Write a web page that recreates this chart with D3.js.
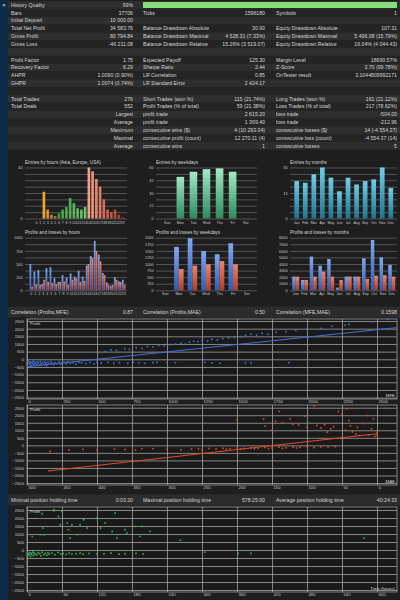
<!DOCTYPE html>
<html>
<head>
<meta charset="utf-8">
<script src="https://cdn.jsdelivr.net/npm/d3@7"></script>
<style>
  body { margin: 0; background: #1e1e1e; }
  svg { display: block; font-family: "Liberation Sans", Arial, sans-serif; }
</style>
</head>
<body>
<div id="report"></div>
<script>
// ---- summary table ----
var summaryLabels1 = ["History Quality", "Bars", "Initial Deposit", "Total Net Profit", "Gross Profit", "Gross Loss", "",
  "Profit Factor", "Recovery Factor", "AHPR", "GHPR", "", "Total Trades", "Total Deals", "", "", "", "", ""];
var summaryValues1 = ["99%", "37706", "10 000.00", "34 583.76", "80 794.84", "-46 211.08", "",
  "1.75", "6.29", "1.0090 (0.90%)", "1.0074 (0.74%)", "", "276", "552", "Largest", "Average", "Maximum", "Maximal", "Average"];
var summaryLabels2 = ["", "Ticks", "", "Balance Drawdown Absolute", "Balance Drawdown Maximal", "Balance Drawdown Relative", "",
  "Expected Payoff", "Sharpe Ratio", "LR Correlation", "LR Standard Error", "", "Short Trades (won %)", "Profit Trades (% of total)",
  "profit trade", "profit trade", "consecutive wins ($)", "consecutive profit (count)", "consecutive wins"];
var summaryValues2 = ["", "1596180", "", "30.93", "4 528.31 (7.33%)", "15.26% (3 519.07)", "",
  "125.30", "2.44", "0.85", "2 424.17", "", "115 (21.74%)", "59 (21.38%)",
  "2 615.20", "1 369.40", "4 (10 293.04)", "12 270.11 (4)", "1"];
var summaryLabels3 = ["", "Symbols", "", "Equity Drawdown Absolute", "Equity Drawdown Maximal", "Equity Drawdown Relative", "",
  "Margin Level", "Z-Score", "OnTester result", "", "", "Long Trades (won %)", "Loss Trades (% of total)",
  "loss trade", "loss trade", "consecutive losses ($)", "consecutive loss (count)", "consecutive losses"];
var summaryValues3 = ["", "1", "", "107.31", "5 496.08 (15.79%)", "16.04% (4 044.43)", "",
  "18690.57%", "3.70 (99.78%)", "3.1044809992171", "", "", "161 (21.12%)", "217 (78.62%)",
  "-504.00", "-212.96", "14 (-4 554.37)", "-4 554.37 (14)", "5"];
var historyQuality = 99;

// ---- entries / profits bar charts ----
var hourLabels = ["0","1","2","3","4","5","6","7","8","9","10","11","12","13","14","15","16","17","18","19","20","21","22","23"];
var hourSessions = ["asia","asia","asia","asia","asia","asia","europe","europe","europe","europe","europe","europe","europe","europe",
  "usa","usa","usa","usa","usa","usa","usa","usa","usa","usa"];
var entriesByHour = [0, 0, 21, 7, 3, 2, 4, 7, 9, 16, 12, 8, 7, 9, 40, 37, 31, 25, 15, 7, 5, 7, 3, 1];
var dayLabels = ["Sun", "Mon", "Tue", "Wed", "Thu", "Fri", "Sat"];
var entriesByDay = [0, 49, 55, 58, 59, 55, 0];
var monthLabels = ["Jan","Feb","Mar","Apr","May","Jun","Jul","Aug","Sep","Oct","Nov","Dec"];
var entriesByMonth = [22, 21, 26, 30, 24, 16, 24, 20, 22, 23, 30, 18];

var profitByHour = [500, 350, 380, 120, 420, 440, 230, 160, 290, 240, 320, 260, 370, 260, 470, 650, 940, 680, 330, 150, 80, 250, 170, 200];
var lossByHour   = [70, 110, 100, 200, 160, 140, 120, 160, 170, 100, 200, 230, 160, 180, 500, 620, 750, 550, 290, 100, 100, 200, 160, 100];
var profitByDay = [0, 1650, 1980, 1490, 1370, 1790, 0];
var lossByDay   = [0, 810, 940, 990, 1110, 990, 0];
var profitByMonth = [2080, 1560, 5120, 3750, 4760, 400, 2080, 2080, 4870, 7650, 5020, 3850];
var lossByMonth   = [2080, 1560, 2080, 2840, 2080, 1560, 2080, 2080, 1720, 2230, 2300, 2080];

var entriesHourTicks = [40, 0];
var entriesDayTicks = [60, 45, 30, 15, 0];
var entriesMonthTicks = [30, 15, 0];
var plHourTicks = [1000, 750, 500, 250, 0];
var plDayTicks = [2000, 1750, 1500, 1250, 1000, 750, 500, 250, 0];
var plMonthTicks = [8000, 7000, 6000, 5000, 4000, 3000, 2000, 1000, 0];

// ---- scatter charts ----
var profitTicks = [2500, 2000, 1500, 1000, 500, 0, -500, -1000, -1500, -2000, -2500];
var mfeTicks = [0, 250, 500, 750, 1000, 1250, 1500, 1750, 2000, 2250, 2500];
var maeTicks = [500, 450, 400, 350, 300, 250, 200, 150, 100, 50, 0];
var timeTicks = [0, 60, 120, 180, 240, 300, 360, 420, 480, 540, 600];

var correlationTexts = ["Correlation (Profits,MFE)", "0.87", "Correlation (Profits,MAE)", "0.50", "Correlation (MFE,MAE)", "0.1598"];
var holdingTexts = ["Minimal position holding time", "0:03:20", "Maximal position holding time", "578:25:00", "Average position holding time", "40:24:33"];

// [MFE, profit]
var mfePoints = [
  [10,-150],[15,-250],[20,-320],[25,-180],[30,-400],[35,-210],[40,-280],[45,-130],[50,-350],[55,-200],
  [60,-260],[70,-310],[75,-170],[80,-230],[90,-380],[95,-140],[100,-290],[110,-220],[120,-330],[125,-180],
  [135,-260],[140,-420],[150,-200],[160,-300],[170,-150],[180,-250],[190,-350],[200,-220],[215,-280],[230,-180],
  [240,-330],[250,-240],[265,-200],[280,-300],[290,-160],[310,-260],[330,-220],[350,-310],[370,-190],[390,-250],
  [420,-280],[450,-210],[480,-300],[500,-180],[530,-240],[580,-200],[620,-260],[660,-220],[720,-250],[760,-200],
  [800,-230],[840,-260],[900,-220],[930,-200],[1000,-240],[1060,-220],[1270,-200],[1320,-240],[1380,-260],[1560,-230],
  [1600,-250],[1870,-220],
  [560,520],[600,610],[640,580],[700,700],[730,650],[780,760],[820,720],[860,830],[900,800],[940,900],
  [980,870],[1020,960],[1060,1000],[1100,1050],[1130,980],[1160,1120],[1190,1180],[1220,1150],[1250,1230],[1290,1200],
  [1320,1300],[1360,1260],[1400,1350],[1440,1380],[1480,1420],[1530,1480],[1560,1560],[1600,1640],[1640,1580],[1680,1700],
  [1720,1650],[1780,1760],[1850,1800],[1920,1880],[2000,1950],[2100,2020],[2180,2150],[2270,2230],[2300,2280],[2460,2450],
  [2580,2615]
];
// [MAE, profit]
var maePoints = [
  [60,-80],[70,-120],[80,-100],[90,-150],[100,-90],[110,-130],[115,-180],[120,-110],[130,-160],[135,-200],
  [140,-120],[150,-170],[155,-210],[160,-140],[170,-190],[175,-230],[180,-160],[190,-200],[195,-250],[200,-180],
  [210,-220],[215,-260],[220,-190],[230,-240],[240,-210],[250,-280],[255,-230],[265,-250],[280,-300],[300,-260],
  [320,-220],[336,-218],[345,-300],[360,-280],[375,-250],[400,-320],[420,-260],[440,-300],[467,-400],
  [162,1760],[145,1590],[140,2250],[135,1500],[124,1760],[120,1400],[112,1350],[103,1940],[100,1200],[86,1320],
  [80,1150],[75,1380],[71,880],[66,1100],[62,1250],[55,2250],[50,2080],[45,1000],[43,2420],[40,1650],
  [38,1300],[35,900],[30,760],[28,1200],[25,660],[20,1450],[14,1980],[12,700],[8,1100],[5,1760],
  [3,600],[0,880],[0,660],[90,2615],[160,1280],[150,1000],[200,1700]
];
// [holding time (hours), profit]
var timePoints = [
  [1,-150],[2,-250],[4,-320],[5,-180],[6,-400],[7,-210],[8,-280],[10,-130],[11,-350],[12,-200],
  [14,-260],[17,-310],[19,-170],[22,-230],[24,-380],[26,-140],[29,-290],[31,-220],[34,-330],[36,-180],
  [38,-260],[43,-200],[48,-300],[53,-150],[58,-250],[62,-220],[67,-280],[72,-200],[77,-250],[84,-230],
  [91,-200],[96,-260],[106,-220],[120,-250],[132,-240],[144,-200],[158,-260],[168,-230],[187,-210],[199,-250],
  [305,-130],[362,-210],[384,-210],
  [9,850],[26,2270],[27,1375],[29,956],[46,2456],[54,2100],[57,1580],[60,2410],[69,1690],[71,1270],
  [74,750],[77,1580],[86,956],[91,1580],[97,1890],[103,1375],[120,2000],[126,1375],[134,1690],[146,1160],
  [151,2310],[154,750],[168,1270],[171,1060],[185,1475],[194,850],[197,1475],[211,1160],[263,600],[578,750],
  [46,2520],[23,956]
];
var mfeFit = { intercept: -480, slope: 0.964 };
var maeFit = { intercept: 773, slope: -5.27 };

// ---------------------------------------------------------------
var W = 400, H = 600;
var textColor = "#d4d4d4";
var plain = d3.format("d");
var svg = d3.select("#report").append("svg").attr("width", W).attr("height", H);
var defs = svg.append("defs");

function gradient(id, top, bottom) {
  var g = defs.append("linearGradient").attr("id", id)
    .attr("x1", 0).attr("y1", 0).attr("x2", 0).attr("y2", 1);
  g.append("stop").attr("offset", "0%").attr("stop-color", top);
  g.append("stop").attr("offset", "100%").attr("stop-color", bottom);
}
gradient("gBlue", "#80a8ef", "#2f5cb0");
gradient("gRed", "#ef8468", "#b03c2b");
gradient("gMint", "#a2e9c6", "#2e8a5c");
gradient("gTeal", "#70cde8", "#1d7391");

svg.append("rect").attr("width", W).attr("height", H).attr("fill", "#1e1e1e");

// table rows
var rowH = 7.82, rowTop = 1.1;
var rows = svg.append("g").style("font-size", "5.2px").attr("fill", textColor);
summaryLabels1.forEach(function (label, i) {
  var y0 = rowTop + i * rowH, yc = y0 + rowH / 2;
  rows.append("rect").attr("x", 8).attr("y", y0).attr("width", W - 8).attr("height", rowH)
    .attr("fill", i % 2 ? "#242424" : "#2e2e2e");
  var cells = [
    [11, "start", label], [133, "end", summaryValues1[i]],
    [143, "start", summaryLabels2[i]], [265, "end", summaryValues2[i]],
    [276, "start", summaryLabels3[i]], [397, "end", summaryValues3[i]]
  ];
  cells.forEach(function (c) {
    if (!c[2]) return;
    rows.append("text").attr("x", c[0]).attr("y", yc).attr("dy", "0.35em")
      .attr("text-anchor", c[1]).text(c[2]);
  });
});

// history quality bar
var qualityScale = d3.scaleLinear().domain([0, 100]).range([143, 399.5]);
svg.append("rect").attr("x", qualityScale(0)).attr("y", 2).attr("height", 6)
  .attr("width", qualityScale(historyQuality) - qualityScale(0)).attr("fill", "#86df7c");

// left strip
svg.append("rect").attr("width", 8).attr("height", H).attr("fill", "#0f2b4a");
svg.append("text").attr("x", 4).attr("y", 5).attr("dy", "0.35em").attr("text-anchor", "middle")
  .style("font-size", "6px").attr("fill", "#e0e0e0").text("\u00d7");

// ---- small bar charts ----
function barFrame(x0, x1, yTop, yBase, maxVal, ticks, title) {
  var y = d3.scaleLinear().domain([0, maxVal]).range([yBase, yTop]);
  var g = svg.append("g");
  var gridY = d3.scaleLinear().domain([0, 8]).range([yBase, yTop]);
  g.append("g").attr("transform", "translate(" + x0 + ",0)")
    .call(d3.axisLeft(gridY).tickValues([0,1,2,3,4,5,6,7,8]).tickSize(-(x1 - x0)).tickFormat(""))
    .call(function (a) {
      a.select(".domain").remove();
      a.selectAll("line").attr("stroke", "#8a8a8a").attr("stroke-width", 0.5);
    });
  g.append("g").attr("transform", "translate(" + (x0 - 1) + ",0)")
    .call(d3.axisLeft(y).tickValues(ticks).tickSize(0).tickPadding(1.5).tickFormat(plain))
    .call(function (a) {
      a.select(".domain").remove();
      a.selectAll("text").attr("fill", "#c8c8c8").style("font-size", "3.8px");
    });
  g.append("text").attr("x", x0).attr("y", yTop - 5).attr("dy", "0.35em")
    .style("font-size", "4.6px").attr("fill", textColor).text(title);
  return y;
}

function bandAxis(band, yPos) {
  svg.append("g").attr("transform", "translate(0," + yPos + ")")
    .call(d3.axisBottom(band).tickSize(0).tickPadding(1.5))
    .call(function (a) {
      a.select(".domain").remove();
      a.selectAll("text").attr("fill", "#c8c8c8").style("font-size", "3.6px");
    });
}

// Entries by hours
var eTop = 167.5, eBase = 218.5;
var yEH = barFrame(25, 127, eTop, eBase, 40, entriesHourTicks, "Entries by hours (Asia, Europe, USA)");
var xEH = d3.scaleBand().domain(hourLabels).range([34, 125]).padding(0.3);
var sessionColors = {
  asia: d3.interpolateRgb("#f2a534", "#b8691a"),
  europe: d3.interpolateRgb("#3f9e44", "#6cc46a"),
  usa: d3.interpolateRgb("#f2a08a", "#a9321f")
};
var sessionRange = { asia: [2, 5], europe: [6, 13], usa: [14, 23] };
svg.append("g").selectAll("rect").data(entriesByHour).enter().append("rect")
  .attr("x", function (d, i) { return xEH(hourLabels[i]); })
  .attr("width", xEH.bandwidth())
  .attr("y", function (d) { return yEH(d); })
  .attr("height", function (d) { return eBase - yEH(d); })
  .attr("fill", function (d, i) {
    var s = hourSessions[i], r = sessionRange[s];
    return sessionColors[s](Math.max(0, (i - r[0]) / (r[1] - r[0])));
  });
bandAxis(xEH, eBase + 1);

// Entries by weekdays
var yED = barFrame(156, 257, eTop, eBase, 60, entriesDayTicks, "Entries by weekdays");
var xED = d3.scaleBand().domain(dayLabels).range([158, 255]).padding(0.42);
svg.append("g").selectAll("rect").data(entriesByDay).enter().append("rect")
  .attr("x", function (d, i) { return xED(dayLabels[i]); })
  .attr("width", xED.bandwidth())
  .attr("y", function (d) { return yED(d); })
  .attr("height", function (d) { return eBase - yED(d); })
  .attr("fill", "url(#gMint)");
bandAxis(xED, eBase + 1);

// Entries by months
var yEM = barFrame(290, 397, eTop, eBase, 30, entriesMonthTicks, "Entries by months");
var xEM = d3.scaleBand().domain(monthLabels).range([290.5, 397]).padding(0.45);
svg.append("g").selectAll("rect").data(entriesByMonth).enter().append("rect")
  .attr("x", function (d, i) { return xEM(monthLabels[i]); })
  .attr("width", xEM.bandwidth())
  .attr("y", function (d) { return yEM(d); })
  .attr("height", function (d) { return eBase - yEM(d); })
  .attr("fill", "url(#gTeal)");
bandAxis(xEM, eBase + 1);

// Profits and losses
var pTop = 237.7, pBase = 290.3;
function pairBars(band, labels, profits, losses, y) {
  var half = band.bandwidth() / 2;
  var g = svg.append("g");
  g.selectAll(".p").data(profits).enter().append("rect")
    .attr("x", function (d, i) { return band(labels[i]); })
    .attr("width", half)
    .attr("y", function (d) { return y(d); })
    .attr("height", function (d) { return pBase - y(d); })
    .attr("fill", "url(#gBlue)");
  g.selectAll(".l").data(losses).enter().append("rect")
    .attr("x", function (d, i) { return band(labels[i]) + half; })
    .attr("width", half)
    .attr("y", function (d) { return y(d); })
    .attr("height", function (d) { return pBase - y(d); })
    .attr("fill", "url(#gRed)");
}
var yPH = barFrame(25, 127, pTop, pBase, 1000, plHourTicks, "Profits and losses by hours");
var xPH = d3.scaleBand().domain(hourLabels).range([29, 126]).padding(0.12);
pairBars(xPH, hourLabels, profitByHour, lossByHour, yPH);
bandAxis(xPH, pBase + 1);

var yPD = barFrame(156, 257, pTop, pBase, 2000, plDayTicks, "Profits and losses by weekdays");
var xPD = d3.scaleBand().domain(dayLabels).range([156.5, 255.5]).padding(0.3);
pairBars(xPD, dayLabels, profitByDay, lossByDay, yPD);
bandAxis(xPD, pBase + 1);

var yPM = barFrame(290, 397, pTop, pBase, 8000, plMonthTicks, "Profits and losses by months");
var xPM = d3.scaleBand().domain(monthLabels).range([290.5, 397]).padding(0.2);
pairBars(xPM, monthLabels, profitByMonth, lossByMonth, yPM);
bandAxis(xPM, pBase + 1);

// ---- header rows for scatter charts ----
function headerRow(y0, texts) {
  svg.append("rect").attr("x", 8).attr("y", y0).attr("width", W - 8).attr("height", 11)
    .attr("fill", "#2c2c2c");
  var pos = [[11, "start"], [133, "end"], [143, "start"], [265, "end"], [276, "start"], [397, "end"]];
  texts.forEach(function (t, i) {
    svg.append("text").attr("x", pos[i][0]).attr("y", y0 + 5.5).attr("dy", "0.35em")
      .attr("text-anchor", pos[i][1]).style("font-size", "5.2px").attr("fill", textColor).text(t);
  });
}

function scatterChart(o) {
  var x = d3.scaleLinear().domain(o.xDomain).range([27, 377]);
  var y = d3.scaleLinear().domain([-2500, 2500]).range([o.yBottom, o.yTop]);
  var g = svg.append("g");
  g.append("rect").attr("x", 27).attr("y", o.top).attr("width", 370).attr("height", o.bottom - o.top)
    .attr("fill", "#1a1a1a").attr("stroke", "#9c9c9c").attr("stroke-width", 0.8);
  g.append("g").attr("transform", "translate(27,0)")
    .call(d3.axisLeft(y).tickValues(profitTicks).tickSize(-370).tickPadding(3).tickFormat(plain))
    .call(function (a) {
      a.select(".domain").remove();
      a.selectAll("line").attr("stroke", "#a2a2a2").attr("stroke-width", 0.8);
      a.selectAll("text").attr("fill", "#c8c8c8").style("font-size", "4.2px");
    });
  g.append("g").attr("transform", "translate(0," + o.bottom + ")")
    .call(d3.axisBottom(x).tickValues(o.xTicks).tickSize(-(o.bottom - o.top)).tickPadding(1.2).tickFormat(plain))
    .call(function (a) {
      a.select(".domain").remove();
      a.selectAll("line").attr("stroke", "#a2a2a2").attr("stroke-width", 0.8);
      a.selectAll("text").attr("fill", "#c8c8c8").style("font-size", "4.2px")
        .attr("text-anchor", "start").attr("dx", 1);
    });
  g.append("g").selectAll("rect").data(o.points).enter().append("rect")
    .attr("x", function (d) { return x(d[0]) - 0.8; })
    .attr("y", function (d) { return y(d[1]) - 0.8; })
    .attr("width", 1.6).attr("height", 1.6)
    .attr("fill", o.color);
  if (o.fit) {
    var line = d3.line()
      .x(function (d) { return x(d); })
      .y(function (d) { return y(o.fit.intercept + o.fit.slope * d); });
    g.append("path").datum(o.fitRange).attr("d", line)
      .attr("fill", "none").attr("stroke", o.color).attr("stroke-width", 1);
  }
  g.append("text").attr("x", 30).attr("y", o.top + 4).attr("dy", "0.35em")
    .style("font-size", "4.4px").attr("fill", textColor).text("Profit");
  g.append("text").attr("x", 395).attr("y", o.bottom - 4).attr("dy", "0.35em")
    .attr("text-anchor", "end").style("font-size", "4.4px").attr("fill", textColor).text(o.axisName);
}

headerRow(306.5, correlationTexts);
scatterChart({ top: 319, bottom: 399, yTop: 321, yBottom: 397.6, xDomain: [0, 2500], xTicks: mfeTicks,
  points: mfePoints, color: "#3f72dc", fit: mfeFit, fitRange: [0, 2640], axisName: "MFE" });
scatterChart({ top: 405, bottom: 485, yTop: 407.7, yBottom: 483, xDomain: [500, 0], xTicks: maeTicks,
  points: maePoints, color: "#e24a2a", fit: maeFit, fitRange: [470, 0], axisName: "MAE" });
headerRow(494.5, holdingTexts);
scatterChart({ top: 507, bottom: 592, yTop: 510, yBottom: 590, xDomain: [0, 600], xTicks: timeTicks,
  points: timePoints, color: "#2fb84a", fit: null, axisName: "Time (hours)" });
</script>
</body>
</html>
